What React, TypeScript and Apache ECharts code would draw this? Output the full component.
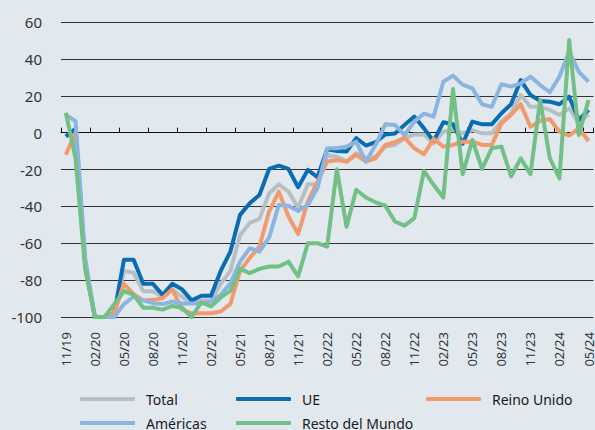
import React, { useEffect, useRef } from "react";
import * as echarts from "echarts";

const categories: string[] = (() => {
  const out: string[] = [];
  let m = 11, y = 19;
  for (let i = 0; i < 55; i++) {
    out.push(String(m).padStart(2, "0") + "/" + String(y).padStart(2, "0"));
    m++;
    if (m > 12) { m = 1; y++; }
  }
  return out;
})();

const total = [-2, 2, -72, -100, -100, -98, -75, -76, -86, -86, -89, -85, -89, -92.5, -91, -91, -82, -75, -55.5, -49, -46.8, -33, -28, -32, -40.6, -28, -28, -12, -13, -15.7, -11.2, -14, -13, -7.6, -6.7, -3, -1, -1, -5.8, 0.5, 1.4, -0.4, 1.4, -0.4, -0.4, 6, 10.5, 20.4, 14, 14, 12.3, 9.6, 13.2, 5, 10];
const ue = [-2, 2, -72, -100, -100, -98, -69, -69, -82, -82, -88, -82, -85, -91, -88.5, -88.5, -75, -64.5, -44.6, -38.3, -33.8, -19.7, -17.9, -19.7, -29.6, -20.2, -24.2, -9, -10, -10.3, -3, -7, -5.2, -1, -0.5, 4.2, 8.7, 2.3, -4.5, 5.6, 4.5, -6, 6, 4.5, 4.5, 10.5, 15.4, 28.5, 20.4, 17.2, 16.8, 15.4, 19.5, 6.9, 12.3];
const reinoUnido = [-12, 0, -72, -100, -100, -98, -82, -87.6, -91, -90.7, -89.8, -85, -96, -98, -98, -98, -97, -93, -75, -68, -61.8, -42.8, -32, -45.5, -55, -37.4, -26.6, -15.7, -14.8, -15.7, -12, -15.7, -14, -6.7, -5.2, -2.7, -8.5, -11.7, -3.4, -7.6, -6.7, -4.9, -4.9, -6.7, -6.7, 5, 9.6, 15.4, 3.2, 6.3, 7.4, 0.5, -1.6, 2.3, -4.5];
const americas = [9.6, 6.3, -68, -100, -100, -100, -93, -89, -91, -92.5, -93, -91.6, -92.7, -92.7, -92.7, -91.6, -88, -81.7, -70, -62.7, -64.5, -57, -39.2, -39.6, -42.5, -39.2, -30, -8.5, -8.5, -7.6, -4.9, -15.7, -6.7, 4.5, 4.2, -1.3, 6, 10.3, 8.7, 27.6, 30.9, 26, 24, 15.4, 14, 26.2, 25, 26.7, 30.4, 25.8, 21.9, 30.4, 43.9, 33, 27.6];
const restoMundo = [10.8, -14, -74, -100, -100, -93, -86, -88, -95, -95, -96, -94, -95, -100, -92, -94.3, -89.4, -85.8, -73.9, -76.2, -73.9, -72.6, -72.6, -70, -78, -60, -60, -61.8, -19.9, -51, -31, -35.2, -37.8, -39.6, -48.2, -50.4, -46.4, -20.8, -28.4, -35.2, 23.7, -22.6, -4, -19.7, -8.5, -7.6, -23.8, -13.9, -22.6, 17.7, -13.9, -24.8, 50.2, -1.3, 17.7];

const seriesNames = ["Total", "UE", "Reino Unido", "Américas", "Resto del Mundo"];
const seriesData = [total, ue, reinoUnido, americas, restoMundo];
const seriesColors = ["#b6bfc4", "#0a6db4", "#f29a6c", "#8cb4e1", "#72c086"];

const FONT = "'Noto Sans', sans-serif";

export default function App() {
  const ref = useRef<HTMLDivElement>(null);
  useEffect(() => {
    if (!ref.current) return;
    const chart = echarts.init(ref.current, null, { renderer: "svg" });
    const legendPos = [
      { left: 80, top: 392 },
      { left: 236, top: 392 },
      { left: 426, top: 392 },
      { left: 80, top: 416 },
      { left: 236, top: 416 },
    ];
    chart.setOption({
      animation: false,
      backgroundColor: "#e1e9ef",
      grid: { left: 61, right: -1, top: 22, bottom: 113, containLabel: false },
      legend: seriesNames.map((n, i) => ({
        data: [n],
        left: legendPos[i].left,
        top: legendPos[i].top,
        padding: 0,
        itemWidth: 55,
        itemHeight: 4,
        icon: "roundRect",
        textStyle: { fontFamily: FONT, fontSize: 14, color: "#1a1a1a", padding: [0, 0, 0, 6] },
      })),
      xAxis: [
        {
          type: "category",
          data: categories,
          boundaryGap: true,
          position: "bottom",
          axisLine: { show: false, onZero: false },
          axisTick: { show: false },
          axisLabel: {
            interval: 2,
            rotate: 90,
            margin: 15,
            fontFamily: FONT,
            fontSize: 13,
            color: "#333",
          },
        },
        {
          type: "category",
          data: categories,
          boundaryGap: true,
          position: "bottom",
          axisLine: { show: true, onZero: true, lineStyle: { color: "#111", width: 1 } },
          axisTick: { show: true, interval: 2, inside: true, length: 5, lineStyle: { color: "#111" } },
          axisLabel: { show: false },
        },
      ],
      yAxis: {
        type: "value",
        min: -100,
        max: 60,
        interval: 20,
        axisLine: { show: false },
        axisTick: { show: false },
        axisLabel: { margin: 19, fontFamily: FONT, fontSize: 15, color: "#333" },
        splitLine: { lineStyle: { color: "#333", width: 1 } },
      },
      series: seriesNames.map((n, i) => ({
        name: n,
        type: "line",
        data: seriesData[i],
        symbol: "none",
        color: seriesColors[i],
        lineStyle: { width: 4, color: seriesColors[i], join: "round" },
        z: 2 + i,
      })),
    });
    return () => chart.dispose();
  }, []);
  return (
    <div
      ref={ref}
      style={{ position: "fixed", left: 0, top: 0, width: 595, height: 430, background: "#e1e9ef" }}
    />
  );
}
